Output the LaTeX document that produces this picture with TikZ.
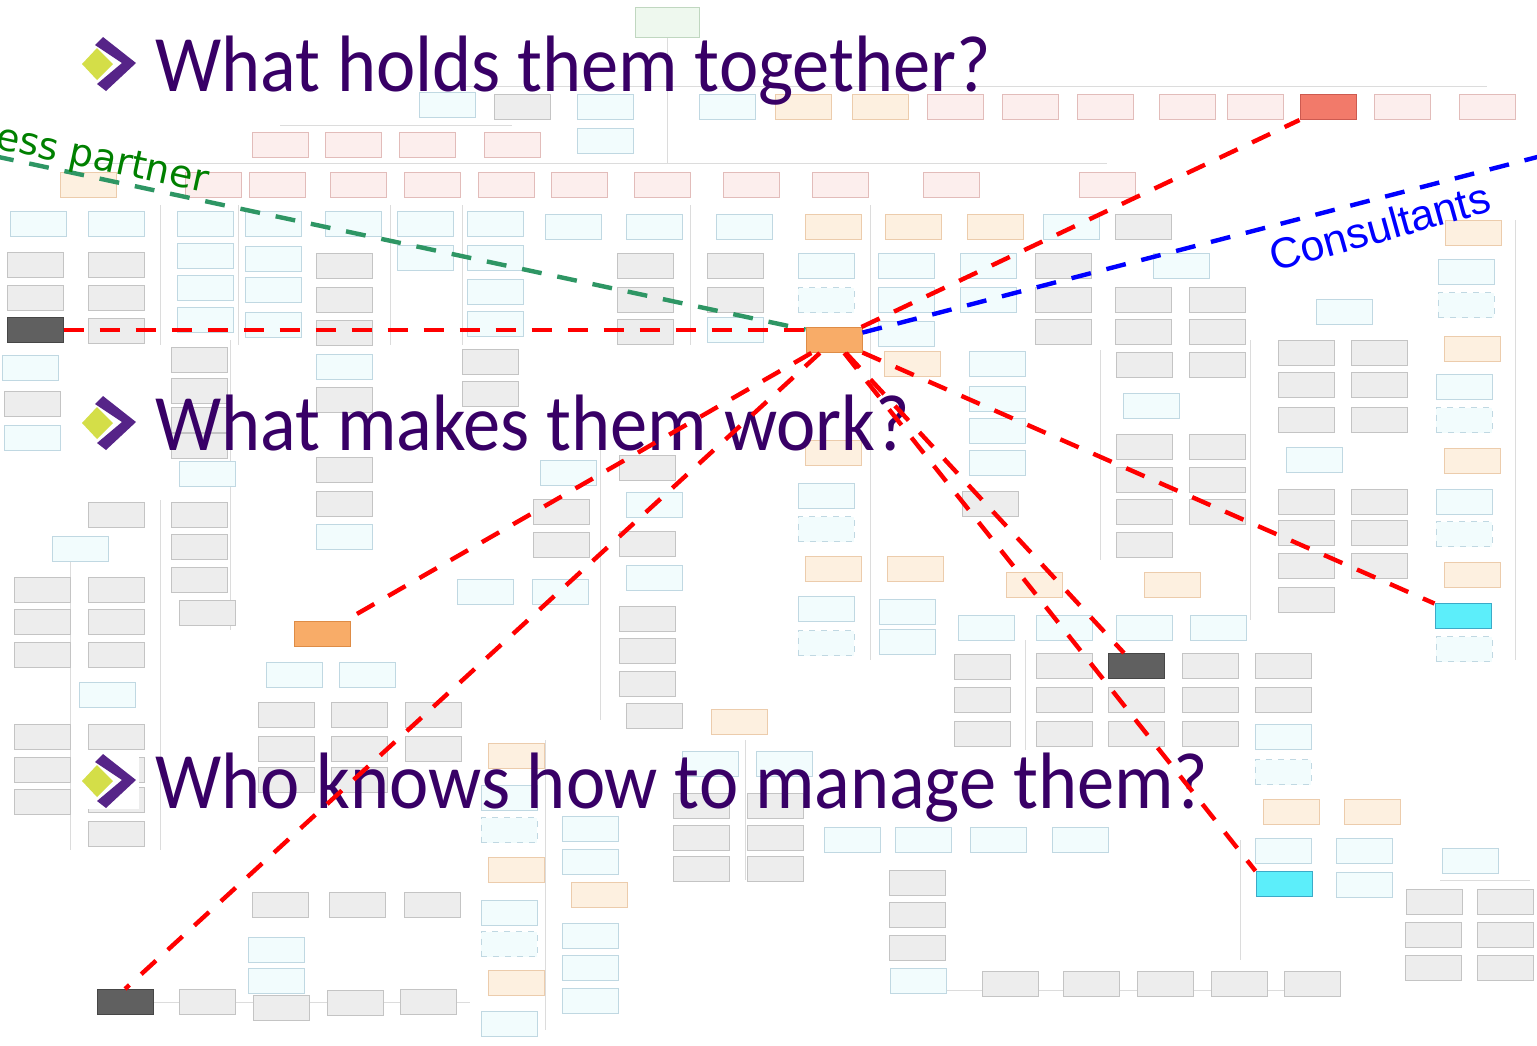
\documentclass[tikz,border=0pt]{standalone}
\usepackage{fontspec}
\setmainfont{Carlito}
\newfontfamily\qfont[FakeStretch=0.93]{Carlito}
\newfontfamily\vfont{DejaVu Sans}
\newfontfamily\afont{Liberation Sans}
\usepackage{tikz}
\usetikzlibrary{shapes}

\definecolor{qpurple}{RGB}{56,0,102}
\definecolor{chevron}{RGB}{86,36,136}
\definecolor{lime}{RGB}{212,222,72}
\definecolor{bpgreen}{RGB}{0,128,0}
\definecolor{bpline}{RGB}{46,150,100}
\definecolor{cfill}{RGB}{242,252,253}
\definecolor{cline}{RGB}{192,216,226}
\definecolor{gfill}{RGB}{237,237,237}
\definecolor{gline}{RGB}{196,196,196}
\definecolor{pfill}{RGB}{252,238,237}
\definecolor{pline}{RGB}{226,188,186}
\definecolor{ofill}{RGB}{253,240,224}
\definecolor{oline}{RGB}{236,204,172}
\definecolor{tline}{RGB}{220,220,220}

\begin{document}
\begin{tikzpicture}[x=0.5pt,y=0.5pt,
	bx/.style={rectangle,minimum width=28pt,minimum height=12.5pt,line width=0.5pt},
	cb/.style={bx,fill=cfill,draw=cline},
	cdb/.style={cb,dashed},
	gb/.style={bx,fill=gfill,draw=gline},
	pb/.style={bx,fill=pfill,draw=pline},
	ob/.style={bx,fill=ofill,draw=oline},
	ohl/.style={bx,fill={rgb,255:red,248;green,172;blue,104},draw={rgb,255:red,222;green,140;blue,70}},
	shl/.style={bx,fill={rgb,255:red,242;green,122;blue,106},draw={rgb,255:red,205;green,90;blue,80}},
	dk/.style={bx,fill={rgb,255:red,96;green,96;blue,96},draw={rgb,255:red,70;green,70;blue,70}},
	chl/.style={bx,fill={rgb,255:red,92;green,238;blue,250},draw={rgb,255:red,60;green,170;blue,200}},
	tl/.style={draw=tline,line width=0.4pt},
	question/.style={font=\qfont\fontsize{40}{40}\selectfont,text=qpurple,anchor=base west},
	redline/.style={red,line width=2.2pt,dash pattern=on 10pt off 8pt},
	blueline/.style={blue,line width=2.2pt,dash pattern=on 10pt off 8pt},
	greenline/.style={bpline,line width=2.2pt,dash pattern=on 10pt off 8pt}]
	\tikzstyle{every node}+=[inner sep=0pt]
	\useasboundingbox (0,0) rectangle (1537,-1045);
	\fill [white] (0,0) rectangle (1537,-1045);
	\draw [tl] (447,-86) -- (1487,-86);
	\draw [tl] (667,-38) -- (667,-163);
	\draw [tl] (280,-125) -- (512,-125);
	\draw [tl] (88,-163) -- (1107,-163);
	\draw [tl] (160,-205) -- (160,-345);
	\draw [tl] (238,-205) -- (238,-345);
	\draw [tl] (390,-205) -- (390,-345);
	\draw [tl] (462,-205) -- (462,-345);
	\draw [tl] (690,-205) -- (690,-345);
	\draw [tl] (870,-205) -- (870,-660);
	\draw [tl] (1100,-350) -- (1100,-560);
	\draw [tl] (1250,-340) -- (1250,-620);
	\draw [tl] (1515,-220) -- (1515,-660);
	\draw [tl] (230,-340) -- (230,-630);
	\draw [tl] (70,-560) -- (70,-850);
	\draw [tl] (160,-500) -- (160,-850);
	\draw [tl] (600,-450) -- (600,-720);
	\draw [tl] (745,-740) -- (745,-880);
	\draw [tl] (545,-740) -- (545,-1030);
	\draw [tl] (1025,-640) -- (1025,-750);
	\draw [tl] (1240,-840) -- (1240,-960);
	\draw [tl] (1440,-880) -- (1530,-880);
	\draw [tl] (940,-990) -- (1330,-990);
	\draw [tl] (150,-1002) -- (470,-1002);
	\node [bx,minimum width=32pt,minimum height=15pt,fill={rgb,255:red,238;green,248;blue,238},draw={rgb,255:red,192;green,215;blue,192}] (top) at (667,-22) {};
	\foreach \x/\y in {447/105,605/107,727/107,605/141,38/224,116/224,205/224,273/224,353/224,425/224,495/224,573/227,654/227,744/227,1071/227,
		205/256,273/259,425/258,495/258,826/266,906/266,988/266,1181/266,205/288,273/290,495/292,906/300,988/300,
		205/320,273/325,495/324,735/330,906/334,30/368,32/438,344/367,207/474,344/537,80/549,107/695,
		568/473,654/505,654/578,485/592,560/592,294/675,367/675,710/764,784/764,
		509/798,590/829,590/862,509/913,590/936,590/968,590/1001,509/1024,276/950,276/981,
		826/496,826/609,907/612,907/642,852/840,923/840,998/840,1080/840,918/981,
		997/364,997/399,997/431,997/463,1151/406,1314/460,1344/312,1464/387,1464/502,1466/272,
		986/628,1064/628,1144/628,1218/628,1283/737,1283/851,1364/851,1364/885,1470/861}
		\node [cb] (c-\x-\y) at (\x,-\y) {};
	\foreach \x/\y in {826/300,509/830,509/944,826/529,826/643,1464/420,1464/534,1464/649,1283/772,1466/305}
		\node [cdb] (d-\x-\y) at (\x,-\y) {};
	\foreach \x/\y in {522/107,35/265,116/265,35/298,116/298,116/331,344/266,344/300,344/333,
		645/266,735/266,645/300,735/300,645/332,1063/266,1143/227,1063/300,1143/300,1217/300,1063/332,1143/332,1217/332,
		32/404,199/360,199/391,199/420,199/446,199/515,199/547,199/580,207/613,344/400,344/470,344/504,490/362,490/394,
		116/515,42/590,116/590,42/622,116/622,42/655,116/655,42/737,116/737,42/770,116/770,42/802,116/800,116/834,
		286/715,359/715,433/715,286/749,359/749,433/749,286/780,359/780,
		647/468,561/512,561/545,647/544,647/619,647/651,647/684,654/716,
		701/806,775/806,701/838,775/838,701/869,775/869,
		207/1002,281/1008,355/1003,428/1002,280/905,357/905,432/905,917/883,917/915,917/948,990/504,
		1144/365,1217/365,1144/447,1217/447,1144/480,1217/480,1144/512,1217/512,1144/545,
		1306/353,1379/353,1306/385,1379/385,1306/420,1379/420,1306/502,1379/502,1306/533,1379/533,1306/566,1379/566,1306/600,
		982/667,1064/666,1210/666,1283/666,982/700,1064/700,1136/700,1210/700,1283/700,982/734,1064/734,1136/734,1210/734,
		1434/902,1505/902,1433/935,1505/935,1433/968,1505/968,1010/984,1091/984,1165/984,1239/984,1312/984}
		\node [gb] (g-\x-\y) at (\x,-\y) {};
	\foreach \x/\y in {955/107,1030/107,1105/107,1187/107,1255/107,1402/107,1487/107,280/145,353/145,427/145,512/145,
		213/185,277/185,358/185,432/185,506/185,579/185,662/185,751/185,840/185,951/185,1107/185}
		\node [pb] (p-\x-\y) at (\x,-\y) {};
	\foreach \x/\y in {803/107,880/107,88/185,833/227,913/227,995/227,912/364,739/722,516/756,516/870,599/895,516/983,
		833/453,833/569,915/569,1034/585,1172/585,1291/812,1372/812,1472/349,1472/461,1472/575,1473/233}
		\node [ob] (o-\x-\y) at (\x,-\y) {};
	\node [ohl] (hub) at (834,-340) {};
	\node [ohl] (lefthl) at (322,-634) {};
	\node [shl] (tophl) at (1328,-107) {};
	\node [dk] (leftdark) at (35,-330) {};
	\node [dk] (botdark) at (125,-1002) {};
	\node [dk] (middark) at (1136,-666) {};
	\node [chl] (cyanright) at (1463,-616) {};
	\node [chl] (cyanlow) at (1284,-884) {};
	\foreach \yb in {64,423,781} {
		\fill [white] (80,-\yb+28) rectangle (139,-\yb-28);
		\fill [lime] (82,-\yb) -- (97,-\yb+16) -- (113,-\yb) -- (97,-\yb-16) -- cycle;
		\fill [chevron] (103,-\yb+27) -- (136,-\yb+1) -- (106,-\yb-27) -- (97,-\yb-20) -- (122,-\yb+1) -- (95,-\yb+19) -- cycle;
	}
	\node [question] (q1) at (155,-91) {What holds them together?};
	\node [question] (q2) at (155,-450) {What makes them work?};
	\node [question] (q3) at (155,-808) {Who knows how to manage them?};
	\coordinate (bpstart) at (-6,-156);
	\coordinate (consend) at (1545,-155);
	\draw [greenline] (bpstart) -- (hub.160);
	\draw [blueline] (hub) -- (consend);
	\draw [redline] (leftdark.east) -- (hub.west |- leftdark.east);
	\draw [redline] (hub) -- (tophl.south west);
	\draw [redline] (hub) -- (lefthl);
	\draw [redline] (hub) -- (botdark.north);
	\draw [redline] (hub) -- (middark);
	\draw [redline] (hub) -- (cyanlow.north west);
	\draw [redline] (hub) -- (cyanright);
	\node [font=\vfont\fontsize{19}{19}\selectfont,text=bpgreen,rotate=-12,anchor=base west] (bp) at (-6,-148) {ess partner};
	\node [font=\afont\fontsize{21.5}{21.5}\selectfont,text=blue,rotate=15.5,anchor=base west] (cons) at (1274,-272) {Consultants};
\end{tikzpicture}
\end{document}
